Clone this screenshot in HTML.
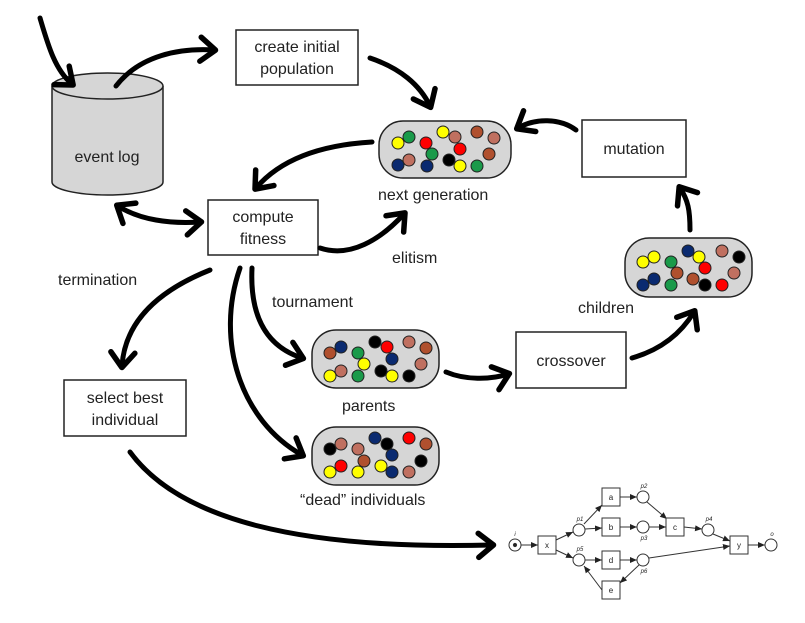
<!DOCTYPE html>
<html><head><style>
body{margin:0;background:#fff;}
svg text{font-family:"Liberation Sans",sans-serif;fill:#222;}
</style></head><body>
<svg width="805" height="618" viewBox="0 0 805 618" xmlns="http://www.w3.org/2000/svg">
<defs>
<marker id="ah" markerWidth="6" markerHeight="6" refX="3.5" refY="3" orient="auto" markerUnits="strokeWidth">
<path d="M0.8,0.6 L3.8,3 L0.8,5.4" fill="none" stroke="#000" stroke-width="1.1" stroke-linecap="round" stroke-linejoin="round"/>
</marker>
<marker id="ahs" markerWidth="6" markerHeight="6" refX="3.5" refY="3" orient="auto-start-reverse" markerUnits="strokeWidth">
<path d="M0.8,0.6 L3.8,3 L0.8,5.4" fill="none" stroke="#000" stroke-width="1.1" stroke-linecap="round" stroke-linejoin="round"/>
</marker>
<marker id="pa" markerWidth="8" markerHeight="8" refX="7" refY="4" orient="auto" markerUnits="userSpaceOnUse">
<path d="M0,1 L7,4 L0,7 Z" fill="#222"/>
</marker>
</defs>

<!-- cylinder -->
<g stroke="#222" stroke-width="1.5" fill="#d6d6d6">
<path d="M52,86 L52,182 A55.5,13 0 0 0 163,182 L163,86"/>
<ellipse cx="107.5" cy="86" rx="55.5" ry="13"/>
</g>
<text x="107" y="162" font-size="16" text-anchor="middle">event log</text>

<!-- boxes -->
<g fill="#fff" stroke="#222" stroke-width="1.5">
<rect x="236" y="30" width="122" height="55"/>
<rect x="582" y="120" width="104" height="57"/>
<rect x="208" y="200" width="110" height="55"/>
<rect x="516" y="332" width="110" height="56"/>
<rect x="64" y="380" width="122" height="56"/>
</g>
<g font-size="16" text-anchor="middle">
<text x="297" y="52">create initial</text><text x="297" y="74">population</text>
<text x="634" y="154">mutation</text>
<text x="263" y="222">compute</text><text x="263" y="244">fitness</text>
<text x="571" y="366">crossover</text>
<text x="125" y="403">select best</text><text x="125" y="425">individual</text>
</g>

<!-- pills -->
<g fill="#d6d6d6" stroke="#222" stroke-width="1.5">
<rect x="379" y="121" width="132" height="57" rx="24"/>
<rect x="312" y="330" width="127" height="58" rx="24"/>
<rect x="312" y="427" width="127" height="58" rx="24"/>
<rect x="625" y="238" width="127" height="59" rx="24"/>
</g>
<g stroke="#222" stroke-width="1" >
<!-- next gen -->
<circle cx="398" cy="143" r="6" fill="#ffff00"/><circle cx="409" cy="137" r="6" fill="#1a9a4a"/>
<circle cx="426" cy="143" r="6" fill="#ff0000"/><circle cx="432" cy="154" r="6" fill="#1a9a4a"/>
<circle cx="398" cy="165" r="6" fill="#0a2a70"/><circle cx="409" cy="160" r="6" fill="#c07060"/>
<circle cx="427" cy="166" r="6" fill="#0a2a70"/><circle cx="443" cy="132" r="6" fill="#ffff00"/>
<circle cx="455" cy="137" r="6" fill="#c07060"/><circle cx="460" cy="149" r="6" fill="#ff0000"/>
<circle cx="449" cy="160" r="6" fill="#000"/><circle cx="460" cy="166" r="6" fill="#ffff00"/>
<circle cx="477" cy="132" r="6" fill="#b0502e"/><circle cx="494" cy="138" r="6" fill="#c07060"/>
<circle cx="489" cy="154" r="6" fill="#b0502e"/><circle cx="477" cy="166" r="6" fill="#1a9a4a"/>
<!-- parents -->
<circle cx="330" cy="353" r="6" fill="#b0502e"/><circle cx="341" cy="347" r="6" fill="#0a2a70"/>
<circle cx="358" cy="353" r="6" fill="#1a9a4a"/><circle cx="364" cy="364" r="6" fill="#ffff00"/>
<circle cx="341" cy="371" r="6" fill="#c07060"/><circle cx="330" cy="376" r="6" fill="#ffff00"/>
<circle cx="358" cy="376" r="6" fill="#1a9a4a"/><circle cx="375" cy="342" r="6" fill="#000"/>
<circle cx="387" cy="347" r="6" fill="#ff0000"/><circle cx="392" cy="359" r="6" fill="#0a2a70"/>
<circle cx="381" cy="371" r="6" fill="#000"/><circle cx="392" cy="376" r="6" fill="#ffff00"/>
<circle cx="409" cy="342" r="6" fill="#c07060"/><circle cx="426" cy="348" r="6" fill="#b0502e"/>
<circle cx="421" cy="364" r="6" fill="#c07060"/><circle cx="409" cy="376" r="6" fill="#000"/>
<!-- dead -->
<circle cx="330" cy="449" r="6" fill="#000"/><circle cx="341" cy="444" r="6" fill="#c07060"/>
<circle cx="358" cy="449" r="6" fill="#c07060"/><circle cx="364" cy="461" r="6" fill="#b0502e"/>
<circle cx="341" cy="466" r="6" fill="#ff0000"/><circle cx="330" cy="472" r="6" fill="#ffff00"/>
<circle cx="358" cy="472" r="6" fill="#ffff00"/><circle cx="375" cy="438" r="6" fill="#0a2a70"/>
<circle cx="387" cy="444" r="6" fill="#000"/><circle cx="392" cy="455" r="6" fill="#0a2a70"/>
<circle cx="381" cy="466" r="6" fill="#ffff00"/><circle cx="392" cy="472" r="6" fill="#0a2a70"/>
<circle cx="409" cy="438" r="6" fill="#ff0000"/><circle cx="426" cy="444" r="6" fill="#b0502e"/>
<circle cx="421" cy="461" r="6" fill="#000"/><circle cx="409" cy="472" r="6" fill="#c07060"/>
<!-- children -->
<circle cx="643" cy="262" r="6" fill="#ffff00"/><circle cx="654" cy="257" r="6" fill="#ffff00"/>
<circle cx="671" cy="262" r="6" fill="#1a9a4a"/><circle cx="677" cy="273" r="6" fill="#b0502e"/>
<circle cx="654" cy="279" r="6" fill="#0a2a70"/><circle cx="643" cy="285" r="6" fill="#0a2a70"/>
<circle cx="671" cy="285" r="6" fill="#1a9a4a"/><circle cx="688" cy="251" r="6" fill="#0a2a70"/>
<circle cx="699" cy="257" r="6" fill="#ffff00"/><circle cx="705" cy="268" r="6" fill="#ff0000"/>
<circle cx="693" cy="279" r="6" fill="#b0502e"/><circle cx="705" cy="285" r="6" fill="#000"/>
<circle cx="722" cy="251" r="6" fill="#c07060"/><circle cx="739" cy="257" r="6" fill="#000"/>
<circle cx="734" cy="273" r="6" fill="#c07060"/><circle cx="722" cy="285" r="6" fill="#ff0000"/>
</g>

<!-- labels -->
<g font-size="16">
<text x="378" y="200">next generation</text>
<text x="58" y="285">termination</text>
<text x="272" y="307">tournament</text>
<text x="392" y="263">elitism</text>
<text x="578" y="313">children</text>
<text x="342" y="411">parents</text>
<text x="300" y="505">“dead” individuals</text>
</g>

<!-- thick arrows -->
<g fill="none" stroke="#000" stroke-width="5" stroke-linecap="round" marker-end="url(#ah)">
<path d="M40,18 C48,45 55,70 72,84"/>
<path d="M116,86 C140,55 180,48 214,50"/>
<path d="M370,58 C400,68 420,85 430,106"/>
<path d="M576,130 C560,118 535,118 518,128"/>
<path d="M372,142 C320,145 280,160 256,188"/>
<path d="M118,206 C140,220 170,224 200,222" marker-start="url(#ahs)"/>
<path d="M320,248 C350,258 380,240 404,214"/>
<path d="M690,230 C690,210 688,200 680,188"/>
<path d="M632,358 C660,350 680,335 694,312"/>
<path d="M446,372 C465,380 490,380 508,374"/>
<path d="M210,270 C160,290 125,320 122,366"/>
<path d="M252,268 C250,310 262,345 302,358"/>
<path d="M240,268 C215,340 240,420 302,455"/>
<path d="M130,452 C180,520 300,550 492,545"/>
</g>

<!-- petri net -->
<g stroke="#333" stroke-width="1" fill="#fff">
<line x1="521" y1="545" x2="538" y2="545" marker-end="url(#pa)"/>
<line x1="556" y1="540" x2="573" y2="532" marker-end="url(#pa)"/>
<line x1="556" y1="550" x2="573" y2="558" marker-end="url(#pa)"/>
<line x1="584" y1="524" x2="602" y2="505" marker-end="url(#pa)"/>
<line x1="585" y1="529" x2="602" y2="528" marker-end="url(#pa)"/>
<line x1="585" y1="560" x2="602" y2="560" marker-end="url(#pa)"/>
<line x1="620" y1="497" x2="637" y2="497" marker-end="url(#pa)"/>
<line x1="620" y1="527" x2="637" y2="527" marker-end="url(#pa)"/>
<line x1="620" y1="560" x2="637" y2="560" marker-end="url(#pa)"/>
<line x1="647" y1="502" x2="667" y2="519" marker-end="url(#pa)"/>
<line x1="649" y1="527" x2="666" y2="527" marker-end="url(#pa)"/>
<line x1="684" y1="527" x2="702" y2="529" marker-end="url(#pa)"/>
<line x1="713" y1="534" x2="730" y2="541" marker-end="url(#pa)"/>
<line x1="649" y1="558" x2="730" y2="546" marker-end="url(#pa)"/>
<line x1="748" y1="545" x2="765" y2="545" marker-end="url(#pa)"/>
<line x1="639" y1="565" x2="620" y2="583" marker-end="url(#pa)"/>
<line x1="602" y1="590" x2="584" y2="566" marker-end="url(#pa)"/>
<circle cx="515" cy="545" r="6"/><circle cx="515" cy="545" r="1.6" fill="#222"/>
<circle cx="579" cy="530" r="6"/><circle cx="579" cy="560" r="6"/>
<circle cx="643" cy="497" r="6"/><circle cx="643" cy="527" r="6"/><circle cx="643" cy="560" r="6"/>
<circle cx="708" cy="530" r="6"/><circle cx="771" cy="545" r="6"/>
<rect x="538" y="536" width="18" height="18"/>
<rect x="602" y="488" width="18" height="18"/>
<rect x="602" y="518" width="18" height="18"/>
<rect x="602" y="551" width="18" height="18"/>
<rect x="602" y="581" width="18" height="18"/>
<rect x="666" y="518" width="18" height="18"/>
<rect x="730" y="536" width="18" height="18"/>
</g>
<g font-size="8" text-anchor="middle" font-family="Liberation Serif">
<text x="547" y="548">x</text><text x="611" y="500">a</text><text x="611" y="530">b</text>
<text x="611" y="563">d</text><text x="611" y="593">e</text><text x="675" y="530">c</text><text x="739" y="548">y</text>
<g font-size="6" font-style="italic" fill="#666">
<text x="515" y="536">i</text><text x="580" y="521">p1</text><text x="580" y="551">p5</text>
<text x="644" y="488">p2</text><text x="644" y="540">p3</text><text x="644" y="573">p6</text>
<text x="709" y="521">p4</text><text x="772" y="536">o</text>
</g>
</g>
</svg>
</body></html>
